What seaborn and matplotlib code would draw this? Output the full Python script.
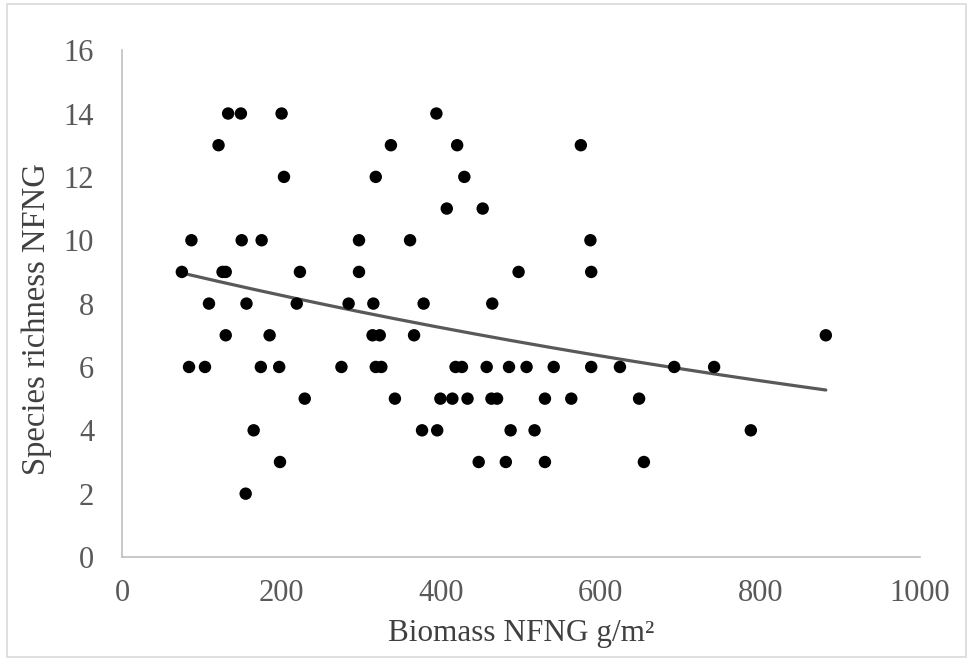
import numpy as np
import pandas as pd
import seaborn as sns
import matplotlib.pyplot as plt
from matplotlib.patches import Rectangle

# biomass (g/m2) and species richness per plot
biomass = [133, 149, 200, 394,
           121, 337, 420, 575,
           203, 318, 429,
           407, 452,
           87, 150, 175, 297, 361, 587,
           75, 126, 130, 223, 297, 497, 588,
           109, 156, 219, 284, 315, 378, 464,
           130, 185, 314, 323, 366, 882,
           84, 104, 174, 197, 275, 318, 325, 418, 426, 457, 485, 507, 541,
           588, 624, 692, 742,
           229, 342, 399, 414, 433, 463, 470, 530, 563, 648,
           165, 376, 395, 487, 517, 788,
           198, 447, 481, 530, 654,
           155]
richness = [14] * 4 + [13] * 4 + [12] * 3 + [11] * 2 + [10] * 6 + [9] * 7 \
    + [8] * 7 + [7] * 6 + [6] * 17 + [5] * 10 + [4] * 6 + [3] * 5 + [2] * 1

# exponential trendline y = a * exp(b * x)
trend_a = 9.42
trend_b = -0.000658

df = pd.DataFrame({"biomass": biomass, "richness": richness})
xs = np.linspace(df["biomass"].min(), df["biomass"].max(), 200)
trend = pd.DataFrame({"biomass": xs, "richness": trend_a * np.exp(trend_b * xs)})

sns.set_style("white")
plt.rcParams["font.family"] = ["Liberation Serif", "DejaVu Serif"]

fig, ax = plt.subplots(figsize=(9.72, 6.6), dpi=100)
fig.subplots_adjust(left=0.1255, right=0.9465, bottom=0.156, top=0.924)

sns.lineplot(data=trend, x="biomass", y="richness", color="#595959",
             linewidth=2.3, ax=ax, zorder=3)
sns.scatterplot(data=df, x="biomass", y="richness", color="black", s=80,
                edgecolor="none", ax=ax, zorder=4)

ax.set_xlim(0, 1000)
ax.set_ylim(0, 16)
ax.set_xticks(range(0, 1001, 200))
ax.set_yticks(range(0, 17, 2))
ax.tick_params(length=0, labelsize=22, labelcolor="#595959")
ax.tick_params(axis="y", pad=20)
ax.tick_params(axis="x", pad=16)

for side in ["top", "right"]:
    ax.spines[side].set_visible(False)
for side in ["left", "bottom"]:
    ax.spines[side].set_color("#bfbfbf")
    ax.spines[side].set_linewidth(1.2)

ax.set_xlabel("Biomass NFNG g/m²", fontsize=22.5, color="#404040")
ax.set_ylabel("Species richness NFNG", fontsize=23.5, color="#404040")
ax.xaxis.set_label_coords(0.5, -0.122)
ax.yaxis.set_label_coords(-0.088, 0.47)

fig.patches.append(Rectangle((0.007, 0.004), 0.987, 0.99, transform=fig.transFigure,
                             fill=False, edgecolor="#d9d9d9", linewidth=1.2))

plt.savefig("out.png", dpi=100)
